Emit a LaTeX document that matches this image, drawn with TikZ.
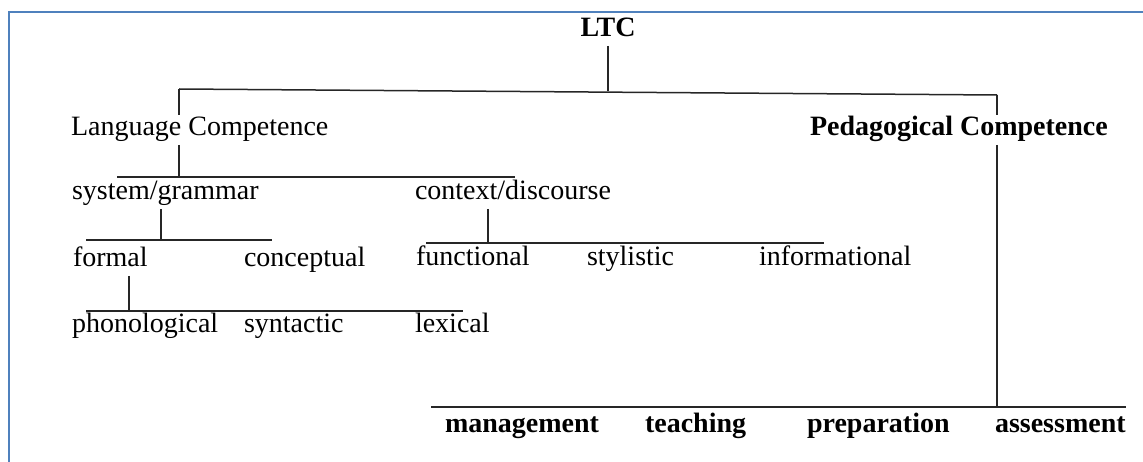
\documentclass[tikz,border=0pt]{standalone}
\usepackage{fontspec}
\setmainfont{Liberation Serif}
\definecolor{frameblue}{RGB}{79,129,189}
\tikzset{
    lbl/.style={anchor=base west, inner sep=0pt, outer sep=2pt, text height=19pt, text depth=7pt, font=\fontsize{28}{30}\selectfont},
    bld/.style={lbl, font=\fontsize{28}{30}\selectfont\bfseries},
    conn/.style={line width=1.5pt, black!85},
}

\begin{document}
\begin{tikzpicture}[x=1pt, y=-1pt]
    \useasboundingbox (0,0) rectangle (1143,462);
    \draw[line width=2pt, frameblue] (8.5,462) -- (8.5,12.5) -- (1143,12.5);

    % root
    \node[bld, anchor=base] (ltc) at (608,37) {LTC};
    \coordinate (topL) at (179,89);
    \coordinate (topR) at (997,95);
    \coordinate (topM) at (608,91.5);
    \draw[conn] (topL) -- (topR);
    \draw[conn] (ltc.south) -- (topM);

    % first level
    \node[lbl] (lang) at (69,136) {Language Competence};
    \node[bld] (ped) at (808,136) {Pedagogical Competence};
    \draw[conn] (topL) -- (lang.north -| topL);
    \draw[conn] (topR) -- (ped.north -| topR);

    % language branch
    \coordinate (langL) at (117,177);
    \coordinate (langR) at (515,177);
    \draw[conn] (langL) -- (langR);
    \draw[conn] (lang.south -| topL) -- (langL -| topL);

    \node[lbl] (sys) at (70,200) {system/grammar};
    \node[lbl] (ctx) at (413,200) {context/discourse};

    \coordinate (sysX) at (161,0);
    \coordinate (sysL) at (86,240);
    \coordinate (sysR) at (272,240);
    \draw[conn] (sysL) -- (sysR);
    \draw[conn] (sys.south -| sysX) -- (sysL -| sysX);

    \coordinate (ctxX) at (488,0);
    \coordinate (ctxL) at (426,243);
    \coordinate (ctxR) at (824,243);
    \draw[conn] (ctxL) -- (ctxR);
    \draw[conn] (ctx.south -| ctxX) -- (ctxL -| ctxX);

    \foreach \name/\x/\t in {formal/71/formal, concept/242/conceptual}
        \node[lbl] (\name) at (\x,267) {\t};
    \foreach \name/\x/\t in {func/414/functional, style/585/stylistic, info/757/informational}
        \node[lbl] (\name) at (\x,266) {\t};

    \coordinate (formX) at (129,0);
    \coordinate (formL) at (86,311);
    \coordinate (formR) at (463,311);
    \draw[conn] (formL) -- (formR);
    \draw[conn] (formal.south -| formX) -- (formL -| formX);

    \foreach \name/\x/\t in {phon/70/phonological, synt/242/syntactic, lex/413/lexical}
        \node[lbl] (\name) at (\x,332) {\t};

    % pedagogical branch
    \coordinate (botL) at (431,407);
    \coordinate (botR) at (1126,407);
    \draw[conn] (botL) -- (botR);
    \draw[conn] (ped.south -| topR) -- (botL -| topR);

    \foreach \name/\x/\t in {manage/443/management, teach/643/teaching, prep/805/preparation, assess/993/assessment}
        \node[bld] (\name) at (\x,432) {\t};

\end{tikzpicture}
\end{document}
